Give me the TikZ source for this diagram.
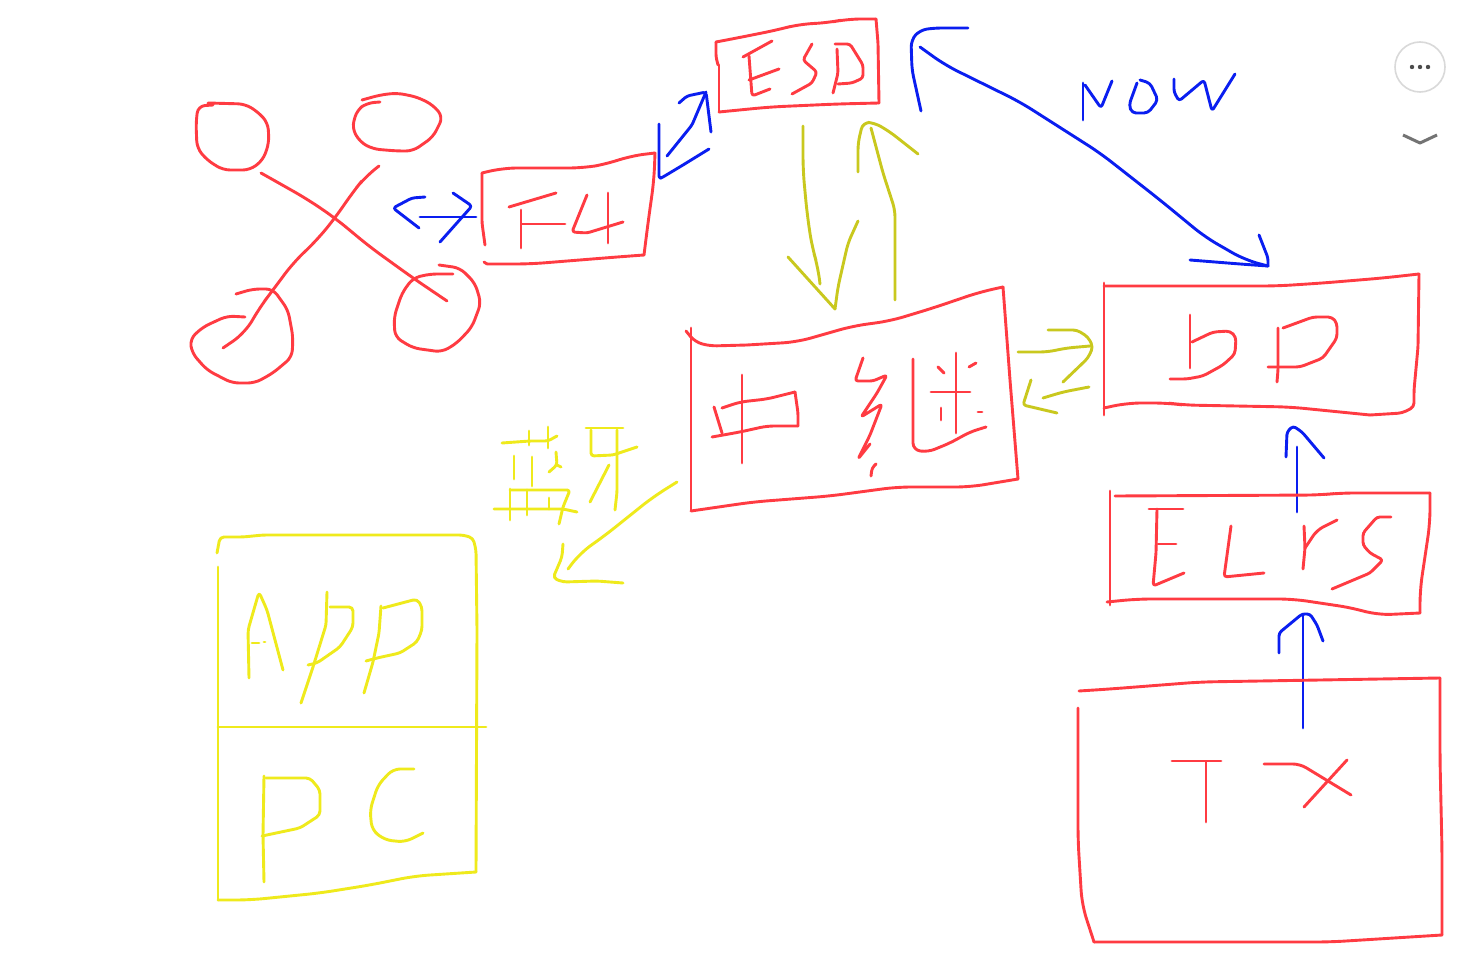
\documentclass[tikz,border=0pt]{standalone}
\definecolor{inkred}{HTML}{FF3B42}
\definecolor{inkblue}{HTML}{0A1EF0}
\definecolor{inkolive}{HTML}{C9C81E}
\definecolor{inkyellow}{HTML}{EFEA1C}
\tikzset{
  ink/.style={line width=2.9pt,line cap=round,line join=round,rounded corners=3pt},
  rd/.style={ink,draw=inkred},
  bl/.style={ink,draw=inkblue},
  ol/.style={ink,draw=inkolive},
  ye/.style={ink,draw=inkyellow},
  sc/.style={rounded corners=4pt},
  cv/.style={rounded corners=7pt},
  wv/.style={rounded corners=14pt},
}
\begin{document}
\begin{tikzpicture}[x=1pt,y=-1pt]
\useasboundingbox[fill=white] (0,0) rectangle (1470,968);
% quad: circles
\draw[rd,cv] (213,105)--(198,106)--(196,123)--(197,148)--(207,160)--(223,170)--(250,170)--(263,160)--(269,143)--(268,123)--(258,112)--(245,104)--(208,103);
\draw[rd,cv] (380,102)--(367,103)--(357,110)--(352,128)--(360,142)--(373,149)--(397,151)--(413,151)--(433,137)--(443,117)--(433,105)--(417,97)--(397,93)--(380,95)--(362,100);
\draw[rd,wv] (261,173)--(277,182)--(307,199)--(335,218)--(370,247)--(413,278)--(447,301);
\draw[rd,wv] (379,166)--(365,177)--(353,192)--(335,218)--(317,240)--(293,263)--(273,290)--(260,307)--(245,333)--(223,348);
\draw[rd,cv] (245,317)--(227,316)--(203,327)--(190,339)--(192,353)--(207,370)--(232,383)--(255,383)--(273,373)--(292,357)--(293,337)--(288,310)--(273,289)--(253,289)--(236,294);
\draw[rd,cv] (453,274)--(430,274)--(413,278)--(402,293)--(394,317)--(395,337)--(413,348)--(442,352)--(457,343)--(472,327)--(481,303)--(475,283)--(460,268)--(439,265);
% blue double arrow
\draw[bl] (425,197)--(412,198)--(393,208)--(419,228);
\draw[bl] (420,217)--(476,217);
\draw[bl] (453,193)--(472,206)--(440,242);
% F4 box
\draw[rd] (485,245)--(482,223)--(482,173);
\draw[rd,wv] (482,173)--(503,168)--(583,168)--(607,164)--(630,156)--(655,153);
\draw[rd,wv] (655,153)--(654,180)--(648,223)--(644,255);
\draw[rd,wv] (644,255)--(617,257)--(530,264)--(487,264);
\draw[rd] (487,264)--(484,262);
\draw[rd] (509,207)--(556,193);
\draw[rd] (521,210)--(521,248);
\draw[rd] (522,224)--(565,224);
\draw[rd] (587,195)--(572,232)--(587,233)--(623,222);
\draw[rd] (608,193)--(608,243);
% blue F4-ESD
\draw[bl] (659,124)--(659,179)--(663,177)--(683,165)--(709,149);
\draw[bl] (667,156)--(692,125)--(706,92);
\draw[bl] (679,103)--(687,96)--(706,92)--(711,132);
% ESD box
\draw[rd] (718,65)--(716,57)--(716,42);
\draw[rd,wv] (716,42)--(737,38)--(777,30)--(800,24)--(827,23)--(847,19)--(876,19);
\draw[rd] (876,19)--(878,43)--(879,103);
\draw[rd,wv] (879,103)--(837,104)--(770,107)--(719,112);
\draw[rd] (719,112)--(719,65);
\draw[rd] (743,57)--(772,41);
\draw[rd] (749,56)--(752,96)--(770,89);
\draw[rd] (749,80)--(779,69);
\draw[rd] (812,44)--(803,60)--(817,72)--(812,83)--(792,94);
\draw[rd] (835,44)--(850,44)--(863,65)--(863,78)--(852,83)--(838,84);
\draw[rd] (837,49)--(838,73)--(833,93);
% olive ESD-relay
\draw[ol,wv] (803,126)--(803,170)--(807,213)--(812,247)--(818,267)--(820,284);
\draw[ol] (788,257)--(835,309);
\draw[ol,cv] (835,309)--(838,287)--(848,243)--(858,221);
\draw[ol,cv] (858,172)--(858,143)--(863,122)--(875,123)--(890,132)--(918,154);
\draw[ol,cv] (871,128)--(883,173)--(895,210)--(895,300);
% NOW arrow
\draw[bl,cv] (921,111)--(912,70)--(911,40)--(920,30)--(935,28)--(968,28);
\draw[bl,wv] (920,47)--(945,65)--(1020,102)--(1100,153)--(1160,200)--(1205,237)--(1245,260)--(1268,266);
\draw[bl] (1268,266)--(1268,258)--(1259,235);
\draw[bl,cv] (1268,266)--(1240,264)--(1190,260);
\draw[bl] (1083,120)--(1083,83);
\draw[bl] (1085,85)--(1101,108)--(1112,81);
\draw[bl,sc] (1140,80)--(1150,83)--(1158,100)--(1148,113)--(1132,113)--(1129,105)--(1137,83);
\draw[bl] (1174,79)--(1174,92)--(1179,101)--(1204,80)--(1212,111)--(1235,74);
% relay box
\draw[rd] (691,328)--(691,510);
\draw[rd,cv] (686,331)--(695,342)--(710,346)--(747,345);
\draw[rd,wv] (747,345)--(797,342)--(853,326)--(890,321)--(933,308)--(980,292)--(1003,287);
\draw[rd] (1003,287)--(1010,380)--(1018,479);
\draw[rd,wv] (1018,479)--(970,487)--(897,487)--(830,496)--(753,502)--(691,511);
\draw[rd] (742,375)--(742,463);
\draw[rd] (714,407)--(722,433);
\draw[rd,cv] (722,408)--(740,402)--(767,399)--(795,392);
\draw[rd] (795,392)--(798,413)--(798,426);
\draw[rd,cv] (798,426)--(767,426)--(740,432)--(712,437);
\draw[rd] (863,358)--(855,381)--(873,381)--(887,375)--(877,393)--(861,417)--(882,404)--(870,435)--(858,459)--(870,444);
\draw[rd] (876,464)--(872,468)--(871,476);
\draw[rd,cv] (913,359)--(913,450)--(928,452)--(950,443)--(970,432)--(986,427);
\draw[rd] (956,353)--(956,433);
\draw[rd] (931,392)--(970,392);
\draw[rd] (938,367)--(944,373);
\draw[rd] (976,363)--(969,367);
\draw[rd] (941,408)--(941,420);
\draw[rd] (978,412)--(982,412);
% olive relay-bp
\draw[ol,cv] (1018,352)--(1047,352)--(1067,348)--(1090,346);
\draw[ol,sc] (1048,330)--(1077,330)--(1088,337)--(1093,347)--(1088,358)--(1063,382);
\draw[ol,cv] (1089,387)--(1063,392)--(1043,398);
\draw[ol] (1031,380)--(1023,405)--(1057,413);
% yellow lantooth
\draw[ye] (502,443)--(530,441)--(548,441)--(557,436);
\draw[ye] (529,431)--(529,445);
\draw[ye] (548,427)--(548,448);
\draw[ye] (514,456)--(514,479);
\draw[ye] (532,457)--(532,486);
\draw[ye] (556,452)--(557,465)--(549,472);
\draw[ye] (557,465)--(561,467);
\draw[ye] (494,509)--(563,509)--(577,512);
\draw[ye] (510,489)--(510,520);
\draw[ye] (510,490)--(570,490)--(563,507)--(559,524);
\draw[ye] (527,490)--(527,515);
\draw[ye] (549,498)--(549,509);
\draw[ye] (586,428)--(623,428);
\draw[ye] (591,430)--(591,456)--(613,455)--(637,447);
\draw[ye] (617,430)--(617,492)--(615,510);
\draw[ye] (609,465)--(590,502);
\draw[ye,wv] (677,482)--(653,497)--(603,537)--(580,553)--(568,569);
\draw[ye,sc] (563,544)--(562,557)--(553,578)--(563,582)--(597,581)--(623,583);
% bp box
\draw[rd] (1104,283)--(1104,415);
\draw[rd,wv] (1104,286)--(1277,286)--(1323,283)--(1383,278)--(1419,274);
\draw[rd,sc] (1419,274)--(1418,347)--(1414,390)--(1414,407)--(1402,413)--(1370,415);
\draw[rd,wv] (1370,415)--(1290,407)--(1183,405)--(1168,403)--(1127,403)--(1104,408);
\draw[rd] (1190,315)--(1190,368);
\draw[rd,sc] (1192,342)--(1213,332)--(1230,331)--(1236,337)--(1235,354)--(1223,365)--(1203,376)--(1187,379)--(1170,379);
\draw[rd] (1278,328)--(1278,370)--(1277,382);
\draw[rd,sc] (1283,328)--(1313,317)--(1332,317)--(1337,323)--(1337,338)--(1323,358)--(1300,367)--(1268,367);
% blue elrs-bp
\draw[bl] (1286,457)--(1287,432)--(1293,426)--(1302,432)--(1324,458);
\draw[bl] (1297,447)--(1297,512);
% elrs box
\draw[rd] (1110,491)--(1110,605);
\draw[rd,wv] (1115,496)--(1320,495)--(1340,493)--(1430,493);
\draw[rd,wv] (1430,493)--(1430,523)--(1420,590)--(1420,613);
\draw[rd,wv] (1420,613)--(1377,615)--(1353,608)--(1293,599)--(1137,599)--(1107,602);
\draw[rd] (1149,509)--(1183,509);
\draw[rd] (1157,509)--(1156,553)--(1153,586)--(1184,573);
\draw[rd] (1158,544)--(1176,544);
\draw[rd] (1231,526)--(1224,577)--(1264,573);
\draw[rd] (1304,526)--(1305,548)--(1303,569);
\draw[rd,cv] (1305,548)--(1317,530)--(1337,520);
\draw[rd] (1391,517)--(1377,517)--(1363,533)--(1363,545)--(1370,553)--(1383,560)--(1370,573)--(1332,589);
% blue tx-elrs
\draw[bl] (1279,653)--(1279,633)--(1302,614)--(1310,614)--(1317,625)--(1323,641);
\draw[bl] (1303,614)--(1303,728);
% tx box
\draw[rd,wv] (1079,691)--(1110,689)--(1200,682)--(1440,678);
\draw[rd,wv] (1440,678)--(1440,760)--(1442,850)--(1442,935);
\draw[rd,wv] (1442,935)--(1410,937)--(1330,942)--(1094,942);
\draw[rd,wv] (1094,942)--(1082,905)--(1078,840)--(1078,708);
\draw[rd] (1172,761)--(1221,761);
\draw[rd] (1206,762)--(1206,822);
\draw[rd,cv] (1264,764)--(1300,764)--(1351,795);
\draw[rd] (1347,760)--(1304,807);
% app/pc box
\draw[ye,sc] (217,553)--(220,537)--(243,537)--(263,535)--(463,535)--(473,538)--(476,550)--(477,630)--(476,872);
\draw[ye,wv] (476,872)--(415,876)--(370,885)--(320,893)--(250,900)--(218,900);
\draw[ye] (218,900)--(218,567);
\draw[ye] (218,727)--(486,727);
\draw[ye,sc] (249,678)--(248,630)--(259,592)--(267,610)--(283,670);
\draw[ye] (252,643)--(259,643);
\draw[ye] (264,642)--(265,642);
\draw[ye] (327,592)--(326,625)--(313,667)--(301,703);
\draw[ye,sc] (330,607)--(353,607)--(353,627)--(340,647)--(317,663)--(308,665);
\draw[ye] (381,606)--(379,633)--(373,662)--(364,693);
\draw[ye,sc] (383,608)--(417,599)--(422,607)--(422,630)--(417,642)--(400,653)--(377,658)--(366,661);
\draw[ye] (264,776)--(263,835)--(264,882);
\draw[ye,sc] (266,778)--(310,778)--(320,790)--(320,815)--(300,828)--(262,836);
\draw[ye,cv] (414,769)--(393,769)--(378,785)--(370,810)--(372,830)--(385,840)--(405,842)--(423,833);
% controls
\node[circle,draw=black!15,line width=1.6pt,fill=white,minimum size=50pt,inner sep=0pt] (more) at (1420,67) {};
\fill[black!70] (1412,67) circle (2.2pt) (1420,67) circle (2.2pt) (1428,67) circle (2.2pt);
\draw[draw=black!55,line width=3pt,line join=round] (1403,135)--(1420,143)--(1437,135);
\end{tikzpicture}
\end{document}
